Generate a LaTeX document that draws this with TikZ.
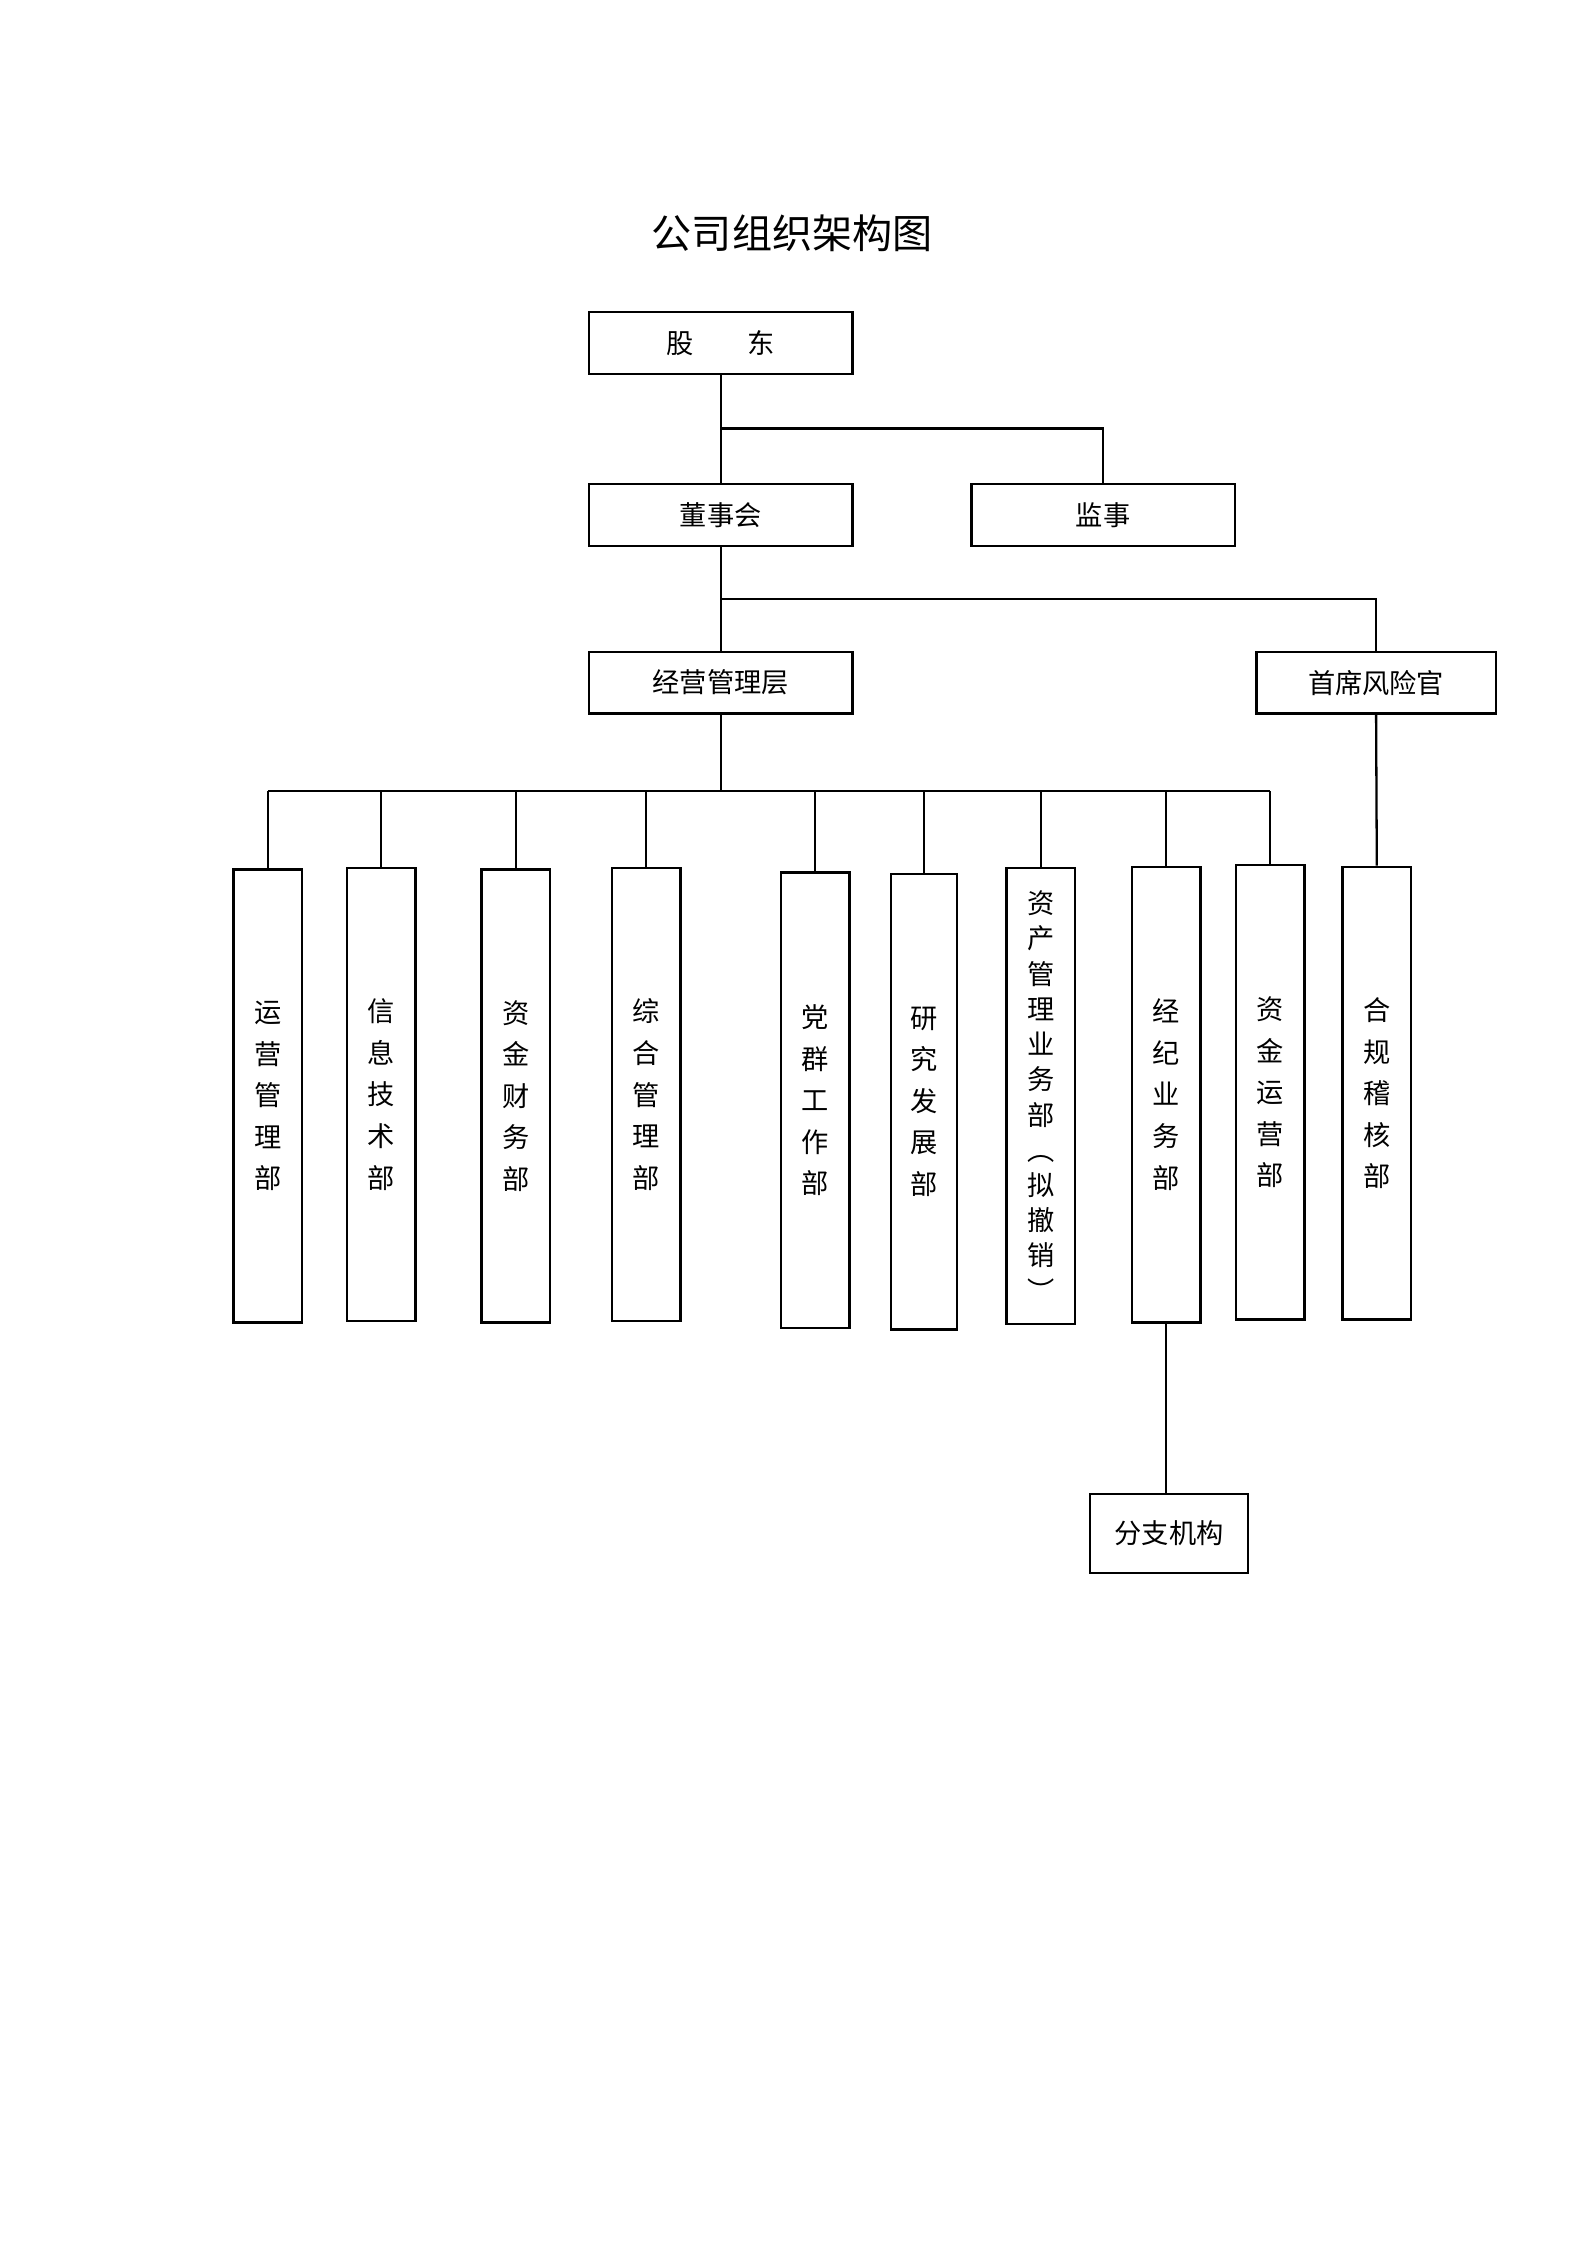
\documentclass[tikz,border=0pt]{standalone}
\usepackage{fontspec}
\newfontfamily\cjk{Noto Sans CJK SC}
\begin{document}
\begin{tikzpicture}[x=0.5pt,y=-0.5pt,
  box/.style={draw,line width=0.8pt,inner sep=0pt,font=\cjk\fontsize{9.5}{12}\selectfont},
  hbox/.style={box,minimum width=92pt,minimum height=21.5pt},
  vbox/.style={box,minimum width=24pt,align=center,font=\cjk\fontsize{9.5}{14.5}\selectfont},
  ln/.style={line width=0.8pt}]
\useasboundingbox (0,0) rectangle (1108,1567);
\node[font=\cjk\fontsize{14}{16}\selectfont] (title) at (553,163) {公司组织架构图};
\node[hbox] (gd) at (503,239.5) {股\hspace{2em}东};
\node[hbox] (dsh) at (503,359.5) {董事会};
\node[hbox] (js) at (770,359.5) {监事};
\node[hbox] (jy) at (503,476.5) {经营管理层};
\node[hbox,minimum width=83.5pt] (fx) at (960.5,476.5) {首席风险官};
\coordinate (b1) at (503,299);
\coordinate (b2) at (503,418);
\coordinate (bus) at (503,552);
\draw[ln] (gd.south) -- (dsh.north);
\draw[ln] (b1) -| (js.north);
\draw[ln] (dsh.south) -- (jy.north);
\draw[ln] (b2) -| (fx.north);
\draw[ln] (jy.south) -- (bus);
\node[vbox,minimum height=158pt] (d1) at (187,765) {运\\营\\管\\理\\部};
\node[vbox,minimum height=158pt] (d2) at (266,764) {信\\息\\技\\术\\部};
\node[vbox,minimum height=158pt] (d3) at (360,765) {资\\金\\财\\务\\部};
\node[vbox,minimum height=158pt] (d4) at (451,764) {综\\合\\管\\理\\部};
\node[vbox,minimum height=159pt] (d5) at (569,768) {党\\群\\工\\作\\部};
\node[vbox,minimum height=159pt,minimum width=23pt] (d6) at (645,769) {研\\究\\发\\展\\部};
\node[vbox,minimum height=159pt,font=\cjk\fontsize{9.5}{12.3}\selectfont] (d7) at (726.5,765) {资\\产\\管\\理\\业\\务\\部\\︵\\拟\\撤\\销\\︶};
\node[vbox,minimum height=159pt] (d8) at (814,764) {经\\纪\\业\\务\\部};
\node[vbox,minimum height=158.5pt] (d9) at (886.5,762.5) {资\\金\\运\\营\\部};
\node[vbox,minimum height=158pt] (d10) at (961,763) {合\\规\\稽\\核\\部};
\node[hbox,minimum width=55pt,minimum height=27.5pt] (fz) at (816,1070.5) {分支机构};
\draw[ln] (d1.north |- bus) -- (d9.north |- bus);
\foreach \d in {d1,d2,d3,d4,d5,d6,d7,d8,d9} \draw[ln] (\d.north) -- (\d.north |- bus);
\draw[ln] (fx.south) -- (d10.north);
\draw[ln] (d8.south) -- (d8.south |- fz.north);
\end{tikzpicture}
\end{document}
